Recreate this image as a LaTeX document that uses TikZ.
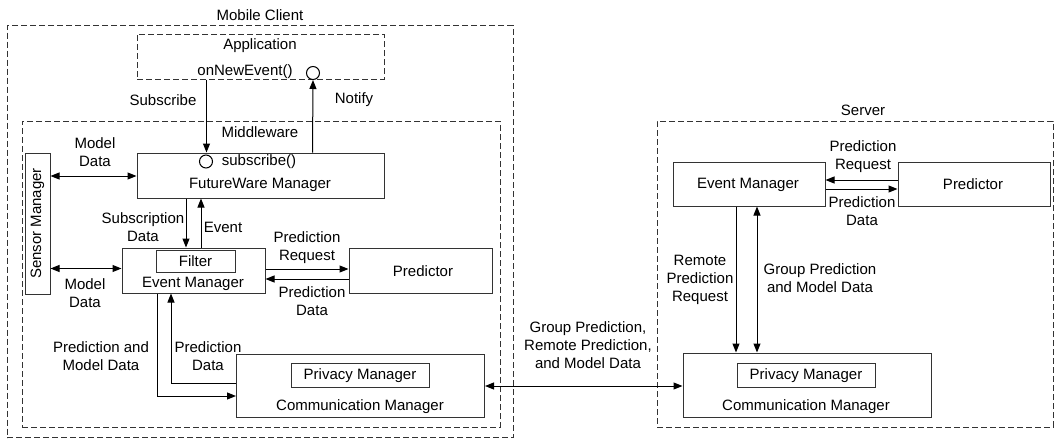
\documentclass[tikz,border=0pt]{standalone}
\usepackage{fontspec}
\setmainfont{Liberation Sans}
\usetikzlibrary{arrows.meta}
\begin{document}
\begin{tikzpicture}[x=1pt,y=-1pt,
  font=\fontsize{15}{18}\selectfont,
  box/.style={draw=black!80, line width=1pt, inner sep=0pt, anchor=center},
  dbox/.style={box, dash pattern=on 6pt off 3pt},
  txt/.style={inner sep=0pt, align=center, anchor=center},
  conn/.style={draw=black, line width=1pt},
  arr/.style={conn, -{Triangle[length=9pt,width=7pt]}},
  darr/.style={conn, {Triangle[length=9pt,width=7pt]}-{Triangle[length=9pt,width=7pt]}},
  port/.style={draw=black, line width=1pt, circle, inner sep=0pt, minimum size=13pt}]
\useasboundingbox (0,0) rectangle (1055,439);
% containers
\node[dbox, minimum width=506pt, minimum height=412pt] (mobile) at (260,231.5) {};
\node[txt] (mobilelbl) at (260,15) {Mobile Client};
\node[dbox, minimum width=247pt, minimum height=45pt] (app) at (260.5,56.5) {};
\node[txt] (applbl) at (260,45.5) {Application};
\node[txt] (onnew) at (245,71.5) {onNewEvent()};
\node[port] (appport) at (313,73) {};
\node[dbox, minimum width=478pt, minimum height=306pt] (mw) at (261,274) {};
\node[txt] (mwlbl) at (260,132.5) {Middleware};
% client boxes
\node[box, minimum width=247pt, minimum height=45pt] (fw) at (260.5,175.5) {};
\node[port] (fwport) at (206,161.5) {};
\node[txt] (sublbl) at (259,161.5) {subscribe()};
\node[txt] (fwlbl) at (260,185) {FutureWare Manager};
\node[box, minimum width=25pt, minimum height=141pt] (sensor) at (37.5,223.5) {};
\node[txt, rotate=90] (sensorlbl) at (37.5,223.5) {Sensor Manager};
\node[box, minimum width=143pt, minimum height=45pt] (emc) at (193.5,270.5) {};
\node[box, minimum width=79pt, minimum height=22pt] (filter) at (195.5,261.5) {};
\node[txt] (filterlbl) at (195.5,261.5) {Filter};
\node[txt] (emclbl) at (193,284) {Event Manager};
\node[box, minimum width=143pt, minimum height=45pt] (predc) at (420.5,270.5) {};
\node[txt] (predclbl) at (423,271) {Predictor};
\node[box, minimum width=248pt, minimum height=63pt] (commc) at (360.5,385.5) {};
\node[box, minimum width=138pt, minimum height=24pt] (privc) at (360,375) {};
\node[txt] (privclbl) at (360,375.5) {Privacy Manager};
\node[txt] (commclbl) at (360,407) {Communication Manager};
% server
\node[dbox, minimum width=396pt, minimum height=306pt] (server) at (855,274) {};
\node[txt] (serverlbl) at (863,110) {Server};
\node[box, minimum width=152pt, minimum height=44pt] (ems) at (749,184) {};
\node[txt] (emslbl) at (748,185) {Event Manager};
\node[box, minimum width=152pt, minimum height=44pt] (preds) at (974,184) {};
\node[txt] (predslbl) at (973,184) {Predictor};
\node[box, minimum width=248pt, minimum height=64pt] (comms) at (807,385) {};
\node[box, minimum width=138pt, minimum height=24pt] (privs) at (806,375.5) {};
\node[txt] (privslbl) at (806,376) {Privacy Manager};
\node[txt] (commslbl) at (806,407) {Communication Manager};
% helper coordinates
\coordinate (xsub) at (206.5,0);
\coordinate (xnot) at (312.5,0);
\coordinate (ysm1) at (0,176);
\coordinate (xsd) at (186,0);
\coordinate (xev) at (201,0);
\coordinate (ysm2) at (0,268.5);
\coordinate (ypr) at (0,269);
\coordinate (ypd) at (0,279);
\coordinate (yret) at (0,383.5);
\coordinate (xret) at (171,0);
\coordinate (ydown) at (0,396);
\coordinate (xdown) at (157,0);
\coordinate (ybig) at (0,386);
\coordinate (yspr) at (0,180);
\coordinate (yspd) at (0,189);
\coordinate (xrem) at (736,0);
\coordinate (xgrp) at (757,0);
% connectors
\draw[arr] (app.south -| xsub) -- (fw.north -| xsub);
\draw[arr] (fw.north -| xnot) -- (appport.south);
\draw[darr] (sensor.east |- ysm1) -- (fw.west |- ysm1);
\draw[arr] (fw.south -| xsd) -- (emc.north -| xsd);
\draw[arr] (emc.north -| xev) -- (fw.south -| xev);
\draw[darr] (sensor.east |- ysm2) -- (emc.west |- ysm2);
\draw[arr] (emc.east |- ypr) -- (predc.west |- ypr);
\draw[arr] (predc.west |- ypd) -- (emc.east |- ypd);
\draw[arr] (commc.west |- yret) -- (xret |- yret) -- (emc.south -| xret);
\draw[arr] (emc.south -| xdown) -- (xdown |- ydown) -- (commc.west |- ydown);
\draw[darr] (commc.east |- ybig) -- (comms.west |- ybig);
\draw[arr] (preds.west |- yspr) -- (ems.east |- yspr);
\draw[arr] (ems.east |- yspd) -- (preds.west |- yspd);
\draw[arr] (ems.south -| xrem) -- (comms.north -| xrem);
\draw[darr] (ems.south -| xgrp) -- (comms.north -| xgrp);
% connector labels
\node[txt] (l1) at (163,100) {Subscribe};
\node[txt] (l2) at (354,100) {Notify};
\node[txt] (l3) at (95,152) {Model\\Data};
\node[txt] (l4) at (143,227) {Subscription\\Data};
\node[txt] (l5) at (223,227) {Event};
\node[txt] (l6) at (85,293) {Model\\Data};
\node[txt] (l7) at (307,248) {Prediction\\Request};
\node[txt] (l8) at (312,301) {Prediction\\Data};
\node[txt] (l9) at (101,356) {Prediction and\\Model Data};
\node[txt] (l10) at (208,356) {Prediction\\Data};
\node[txt] (l11) at (588,345) {Group Prediction,\\Remote Prediction,\\and Model Data};
\node[txt] (l12) at (863,157) {Prediction\\Request};
\node[txt] (l13) at (862,211) {Prediction\\Data};
\node[txt] (l14) at (700,280) {Remote\\Prediction\\Request};
\node[txt] (l15) at (820,278) {Group Prediction\\and Model Data};
\end{tikzpicture}
\end{document}
